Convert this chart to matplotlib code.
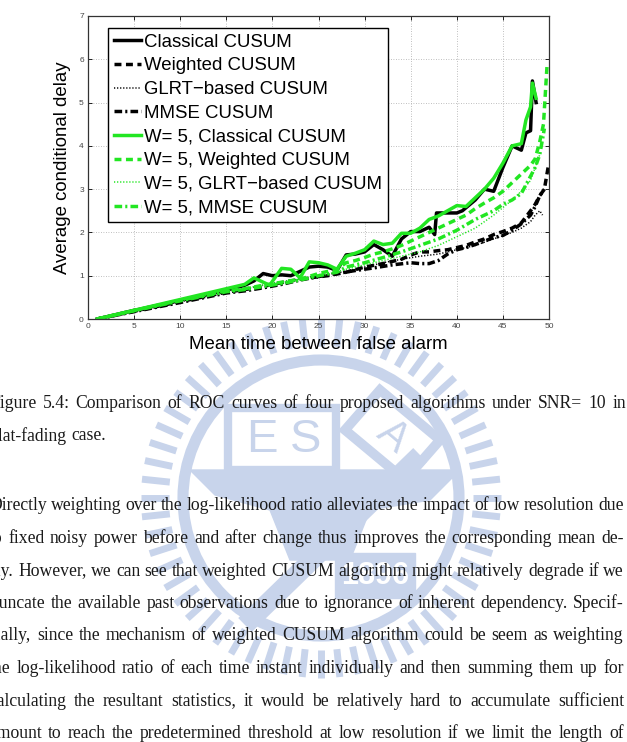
import numpy as np
import matplotlib
matplotlib.use("Agg")
import matplotlib.pyplot as plt
from matplotlib.patches import Rectangle, Polygon, Circle

# ---- data ----
x_classical = [1, 2, 3, 4, 5, 6, 7, 8, 9, 10, 11, 12, 13, 14, 15, 16, 17, 18, 19, 20,
               21, 22, 23, 24, 25, 26, 27, 28, 29, 30, 31, 32, 33, 34, 35, 36, 37, 37.6,
               37.8, 39, 40, 40.6, 42, 43, 44, 45, 46, 47, 47.5, 48, 48.2, 48.6]
y_classical = [0.0, 0.05, 0.1, 0.15, 0.2, 0.24, 0.29, 0.33, 0.38, 0.43, 0.48, 0.52, 0.57,
               0.62, 0.67, 0.72, 0.78, 0.88, 1.05, 1.0, 1.02, 1.0, 1.1, 1.2, 1.22, 1.2, 1.12,
               1.48, 1.5, 1.55, 1.72, 1.6, 1.45, 1.85, 2.02, 2.02, 2.12, 1.95, 2.45, 2.45,
               2.45, 2.5, 2.75, 3.0, 2.95, 3.5, 4.0, 3.9, 4.3, 4.35, 5.5, 5.0]

x_weighted = [1, 5, 10, 15, 17, 19, 20, 22, 24, 26, 28, 30, 32, 34, 35, 36, 37, 38, 39, 40,
              41, 42, 43, 44, 45, 46, 47, 48, 48.5, 49, 49.5, 49.9]
y_weighted = [0.0, 0.18, 0.4, 0.62, 0.68, 0.75, 0.8, 0.88, 0.95, 1.0, 1.08, 1.2, 1.28, 1.38,
              1.48, 1.55, 1.55, 1.58, 1.6, 1.65, 1.7, 1.78, 1.85, 1.95, 2.02, 2.1, 2.22,
              2.5, 2.65, 2.85, 3.0, 3.5]

x_glrt = [1, 5, 10, 15, 20, 25, 28, 30, 32, 34, 36, 38, 40, 42, 44, 46, 47, 48, 48.5, 49, 49.3]
y_glrt = [0.0, 0.18, 0.4, 0.62, 0.82, 1.0, 1.1, 1.2, 1.3, 1.38, 1.45, 1.5, 1.6, 1.7, 1.85,
          2.0, 2.1, 2.25, 2.4, 2.5, 2.4]

x_mmse = [1, 5, 10, 15, 17, 19, 21, 23, 25, 27, 29, 31, 33, 35, 36, 37, 38, 39, 40, 41, 42,
          43, 44, 45, 46, 47, 48, 48.5, 49, 49.5]
y_mmse = [0.0, 0.17, 0.38, 0.6, 0.65, 0.72, 0.8, 0.9, 0.98, 1.05, 1.12, 1.18, 1.25, 1.3,
          1.28, 1.28, 1.35, 1.5, 1.6, 1.65, 1.72, 1.8, 1.88, 1.93, 2.05, 2.2, 2.4, 2.6,
          2.85, 3.0]

x_w5_classical = [1, 2, 3, 4, 5, 6, 7, 8, 9, 10, 11, 12, 13, 14, 15, 16, 17, 18, 19.7, 21,
                  22, 23, 24, 25, 26, 27, 28, 29, 30, 31, 32, 33, 34, 35, 36, 37, 38, 39,
                  40, 41, 42, 43, 44, 45, 46, 47, 47.5, 48, 48.2, 48.6]
y_w5_classical = [0.0, 0.05, 0.1, 0.15, 0.2, 0.25, 0.3, 0.35, 0.4, 0.45, 0.5, 0.55, 0.6,
                  0.65, 0.7, 0.75, 0.8, 0.95, 0.78, 1.17, 1.15, 0.95, 1.32, 1.3, 1.25, 1.15,
                  1.45, 1.52, 1.6, 1.8, 1.72, 1.75, 1.98, 1.98, 2.1, 2.3, 2.38, 2.5, 2.62,
                  2.6, 2.8, 3.0, 3.25, 3.6, 4.0, 4.05, 4.6, 4.9, 5.45, 5.1]

x_w5_weighted = [1, 5, 10, 15, 17, 19, 21, 23, 25, 27, 28, 29, 30, 31, 32, 33, 34, 35, 36,
                 37, 38, 39, 40, 41, 42, 43, 44, 45, 46, 47, 48, 48.5, 49, 49.4, 49.8]
y_w5_weighted = [0.0, 0.2, 0.43, 0.65, 0.7, 0.78, 0.85, 0.92, 1.05, 1.15, 1.3, 1.35, 1.42,
                 1.5, 1.55, 1.62, 1.7, 1.8, 1.9, 2.0, 2.1, 2.2, 2.3, 2.4, 2.55, 2.68, 2.8,
                 2.95, 3.15, 3.35, 3.55, 3.7, 4.1, 4.5, 5.9]

x_w5_glrt = [1, 5, 10, 15, 20, 25, 28, 30, 32, 34, 36, 38, 40, 42, 44, 46, 47, 48, 48.5, 49]
y_w5_glrt = [0.0, 0.19, 0.42, 0.64, 0.82, 0.98, 1.15, 1.25, 1.35, 1.45, 1.55, 1.7, 1.9, 2.1,
             2.4, 2.75, 2.95, 3.2, 3.5, 3.8]

x_w5_mmse = [1, 5, 10, 15, 17, 19, 21, 23, 25, 27, 28, 30, 32, 34, 36, 38, 40, 42, 43, 44,
             45, 46, 47, 48, 48.5, 49, 49.5]
y_w5_mmse = [0.0, 0.19, 0.42, 0.63, 0.68, 0.75, 0.82, 0.9, 1.0, 1.08, 1.2, 1.3, 1.42, 1.55,
             1.7, 1.85, 2.05, 2.3, 2.4, 2.5, 2.65, 2.75, 2.9, 3.3, 3.5, 3.8, 4.4]

legend_labels = ["Classical CUSUM", "Weighted CUSUM", "GLRT\u2212based CUSUM", "MMSE CUSUM",
                 "W= 5, Classical CUSUM", "W= 5, Weighted CUSUM",
                 "W= 5, GLRT\u2212based CUSUM", "W= 5, MMSE CUSUM"]

caption_lines = [
    "Figure 5.4: Comparison of ROC curves of four proposed algorithms under SNR= 10 in",
    "flat-fading case.",
]
body_lines = [
    "Directly weighting over the log-likelihood ratio alleviates the impact of low resolution due",
    "to fixed noisy power before and after change thus improves the corresponding mean de-",
    "lay. However, we can see that weighted CUSUM algorithm might relatively degrade if we",
    "truncate the available past observations due to ignorance of inherent dependency. Specif-",
    "ically, since the mechanism of weighted CUSUM algorithm could be seem as weighting",
    "the log-likelihood ratio of each time instant individually and then summing them up for",
    "calculating the resultant statistics, it would be relatively hard to accumulate sufficient",
    "amount to reach the predetermined threshold at low resolution if we limit the length of",
]

W, H = 627, 742
GREEN = "#22e622"
WM = "#c8d4eb"

fig = plt.figure(figsize=(W / 100, H / 100), dpi=100)
fig.patch.set_facecolor("white")

# faint seal watermark behind the page text
wm = fig.add_axes([0, 0, 1, 1], zorder=0)
wm.set_xlim(0, W)
wm.set_ylim(H, 0)
wm.axis("off")
cx, cy = 321, 498
for ang in np.linspace(0, 2 * np.pi, 60, endpoint=False):
    wm.plot([cx + 152 * np.cos(ang), cx + 180 * np.cos(ang)],
            [cy + 152 * np.sin(ang), cy + 180 * np.sin(ang)],
            color=WM, lw=5, solid_capstyle="butt")
wm.add_patch(Circle((cx, cy), 138, fill=False, ec=WM, lw=8))
wm.add_patch(Rectangle((228, 408), 108, 62, fc="white", ec=WM, lw=6))
wm.text(262, 440, "E", color=WM, fontsize=34, ha="center", va="center",
        family="Liberation Sans")
wm.text(306, 440, "S", color=WM, fontsize=34, ha="center", va="center",
        family="Liberation Sans")
wm.add_patch(Polygon([[380, 390], [440, 440], [405, 480], [345, 430]], fc="white", ec=WM, lw=7))
wm.text(393, 436, "A", color=WM, fontsize=30, ha="center", va="center", rotation=-40,
        family="Liberation Sans")
wm.add_patch(Polygon([[190, 470], [460, 470], [430, 500], [370, 510], [350, 560],
                      [290, 560], [270, 510], [215, 495]], fc=WM, ec=WM))
wm.plot([245, 420], [625, 455], color=WM, lw=14, solid_capstyle="butt")
wm.add_patch(Rectangle((335, 553), 80, 45, fc=WM, ec=WM))
wm.text(375, 576, "1896", color="white", fontsize=22, ha="center", va="center",
        family="Liberation Sans", weight="bold")

# ---- chart ----
ax = fig.add_axes([88 / W, 1 - 319 / H, 461 / W, 303 / H], zorder=2)
ax.set_facecolor("white")

ax.plot(x_classical, y_classical, color="k", lw=2.5, label=legend_labels[0])
ax.plot(x_weighted, y_weighted, color="k", lw=2.5, ls=(0, (2.0, 1.3)), label=legend_labels[1])
ax.plot(x_glrt, y_glrt, color="k", lw=1.1, ls=(0, (0.8, 1.2)), label=legend_labels[2])
ax.plot(x_mmse, y_mmse, color="k", lw=2.5, ls=(0, (2.2, 0.9, 0.6, 0.9)), label=legend_labels[3])
ax.plot(x_w5_classical, y_w5_classical, color=GREEN, lw=2.5, label=legend_labels[4])
ax.plot(x_w5_weighted, y_w5_weighted, color=GREEN, lw=2.5, ls=(0, (2.0, 1.3)),
        label=legend_labels[5])
ax.plot(x_w5_glrt, y_w5_glrt, color=GREEN, lw=1.1, ls=(0, (0.8, 1.2)), label=legend_labels[6])
ax.plot(x_w5_mmse, y_w5_mmse, color=GREEN, lw=2.5, ls=(0, (2.2, 0.9, 0.6, 0.9)),
        label=legend_labels[7])

ax.set_xlim(0, 50)
ax.set_ylim(0, 7)
ax.set_xticks(range(0, 51, 5))
ax.set_yticks(range(0, 8))
ax.tick_params(direction="in", length=3, width=0.6, labelsize=6, pad=3,
               labelcolor="#444444", top=True, right=True)
for lab in ax.get_xticklabels() + ax.get_yticklabels():
    lab.set_family("Liberation Sans")
ax.grid(True, ls=(0, (1, 2)), color="#aaaaaa", lw=0.6)
for sp in ax.spines.values():
    sp.set_linewidth(0.9)
    sp.set_color("#333333")

ax.set_xlabel("Mean time between false alarm", fontsize=13.4, family="Liberation Sans",
              labelpad=4)
ax.set_ylabel("Average conditional delay", fontsize=13.4, family="Liberation Sans",
              labelpad=6)

leg = ax.legend(loc="upper left", bbox_to_anchor=(20 / 461, 1 - 12 / 303),
                prop={"family": "Liberation Sans", "size": 13.4}, frameon=True,
                fancybox=False, framealpha=1, edgecolor="black", borderaxespad=0,
                borderpad=0.3, labelspacing=0.36, handlelength=1.45, handletextpad=0.2)
leg.get_frame().set_linewidth(1.0)

# ---- page text (justified, left side cut off like the scan) ----
renderer = fig.canvas.get_renderer()
FS = 12.7


def put_line(text, y_px, left_px, right_px, justify=True):
    words = text.split(" ")
    items = []
    widths = []
    for w in words:
        t = fig.text(0, 1 - y_px / H, w, fontsize=FS, family="Liberation Serif",
                     color="#1a1a1a", va="center", ha="left", zorder=5)
        items.append(t)
        widths.append(t.get_window_extent(renderer).width)
    space = fig.text(0, 0, "a a", fontsize=FS, family="Liberation Serif")
    aa = fig.text(0, 0, "aa", fontsize=FS, family="Liberation Serif")
    sp_w = space.get_window_extent(renderer).width - aa.get_window_extent(renderer).width
    space.remove()
    aa.remove()
    if justify and len(words) > 1:
        gap = (right_px - left_px - sum(widths)) / (len(words) - 1)
    else:
        gap = sp_w
    x = left_px
    for t, w in zip(items, widths):
        t.set_x(x / W)
        x += w + gap


put_line(caption_lines[0], 403, -10, 626)
put_line(caption_lines[1], 436, -7, 626, justify=False)
for i, line in enumerate(body_lines):
    put_line(line, 506 + i * 32.5, -11, 624)

fig.savefig("out.png", dpi=100)
